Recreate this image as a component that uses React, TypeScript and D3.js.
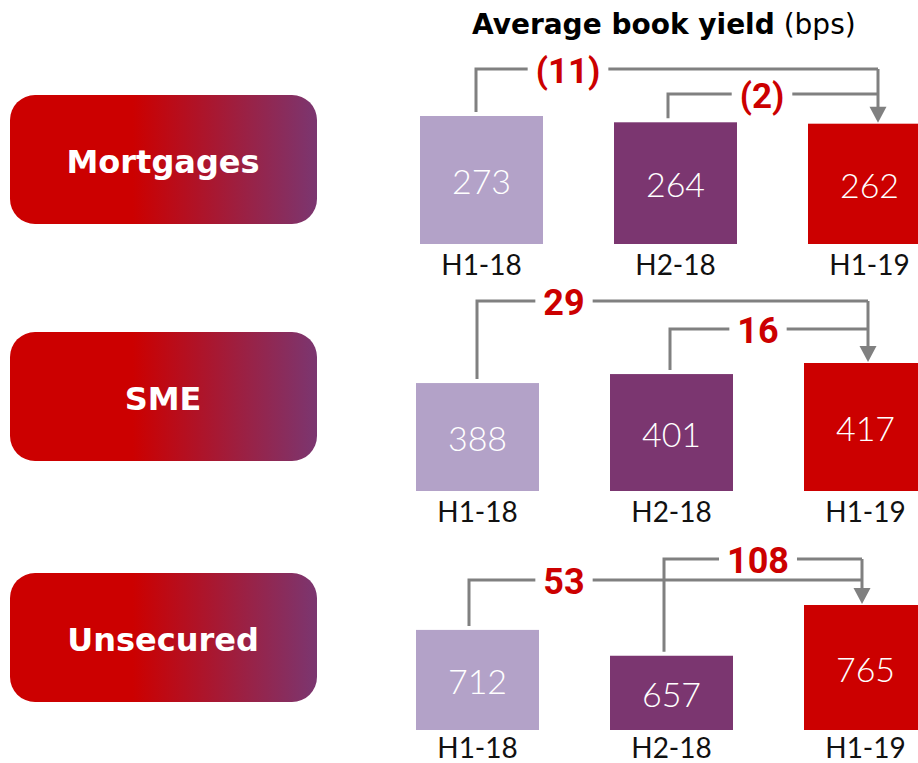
import React from "react";
import * as d3 from "d3";

// ---------- data ----------
const segments = ["Mortgages", "SME", "Unsecured"];
const periods = ["H1-18", "H2-18", "H1-19"];
const mortgages = [273, 264, 262];
const sme = [388, 401, 417];
const unsecured = [712, 657, 765];
const changeFromH118 = [-11, 29, 53];
const changeFromH218 = [-2, 16, 108];
// lower bound of each row's box-height scale (as drawn in the source)
const scaleFloor = [90, 232, 499];

// ---------- layout ----------
const W = 918;
const H = 763;
const rowLayout = [
  { x0: 420, base: 244, longY: 69, shortY: 94, fromDx: [56, 54], arrowDx: 70, pillY: 95, labelSize: 35, maxH: 128, catDy: 31 },
  { x0: 416, base: 491, longY: 301, shortY: 329, fromDx: [61, 60], arrowDx: 64, pillY: 332, labelSize: 36, maxH: 128, catDy: 31 },
  { x0: 416, base: 730, longY: 580, shortY: 559, fromDx: [53, 54], arrowDx: 58, pillY: 573, labelSize: 36, maxH: 125, catDy: 28 },
];
const BOX_W = 123;
const colors = ["#B3A2C8", "#7B3670", "#CC0000"];
const RED = "#CC0000";
const GREY = "#808080";

const rowsData = [mortgages, sme, unsecured];

let measureCtx: CanvasRenderingContext2D | null = null;
function textWidth(t: string, font: string) {
  if (!measureCtx) measureCtx = document.createElement("canvas").getContext("2d");
  if (!measureCtx) return t.length * 20;
  measureCtx.font = font;
  return measureCtx.measureText(t).width;
}

const fmtChange = (v: number) => (v < 0 ? `(${Math.abs(v)})` : `${v}`);

export default function App() {
  const xPos = d3.scalePoint<string>().domain(periods).range([0, 388]);

  const rows = rowsData.map((vals, r) => {
    const L = rowLayout[r];
    const hScale = d3.scaleLinear().domain([scaleFloor[r], d3.max(vals) as number]).range([0, L.maxH]);
    const boxes = vals.map((v, i) => {
      const x = L.x0 + (xPos(periods[i]) as number);
      const h = hScale(v);
      return { x, y: L.base - h, h, v, p: periods[i], c: colors[i] };
    });
    const arrowX = boxes[2].x + L.arrowDx;
    const tipY = boxes[2].y - 1;
    const fs = L.labelSize;
    const font = `bold ${fs}px Roboto`;
    const conns = [
      { from: boxes[0], dx: L.fromDx[0], y: L.longY, label: fmtChange(changeFromH118[r]) },
      { from: boxes[1], dx: L.fromDx[1], y: L.shortY, label: fmtChange(changeFromH218[r]) },
    ].map((c) => {
      const fx = c.from.x + c.dx;
      const lx = c.from.x + 148;
      const w = textWidth(c.label, font);
      const pad = 8;
      return {
        fx,
        fy: c.from.y - 4,
        y: c.y,
        lx,
        label: c.label,
        g1: lx - w / 2 - pad,
        g2: lx + w / 2 + pad,
      };
    });
    const topY = Math.min(L.longY, L.shortY);
    return { L, boxes, conns, arrowX, tipY, topY, fs };
  });

  return (
    <svg
      width={W}
      height={H}
      style={{ position: "absolute", left: 0, top: 0, overflow: "hidden", background: "#fff" }}
    >
      <defs>
        <linearGradient id="pillGrad" x1="0" x2="1" y1="0" y2="0">
          <stop offset="0%" stopColor="#CC0000" />
          <stop offset="40%" stopColor="#CC0000" />
          <stop offset="100%" stopColor="#7B3670" />
        </linearGradient>
      </defs>

      <text x={472} y={34} fontFamily="DejaVu Sans" fontSize={28} fill="#000">
        <tspan fontWeight="bold">Average book yield</tspan>
        <tspan fontWeight="normal"> (bps)</tspan>
      </text>

      {rows.map((row, r) => (
        <g key={segments[r]}>
          {/* pill */}
          <rect x={10} y={row.L.pillY} width={307} height={129} rx={25} ry={25} fill="url(#pillGrad)" />
          <text
            x={163}
            y={row.L.pillY + 64.5 + 13}
            textAnchor="middle"
            fontFamily="DejaVu Sans"
            fontWeight="bold"
            fontSize={32}
            fill="#fff"
          >
            {segments[r]}
          </text>

          {/* boxes */}
          {row.boxes.map((b) => (
            <g key={b.p}>
              <rect x={b.x} y={b.y} width={BOX_W} height={b.h} fill={b.c} />
              <text
                x={b.x + BOX_W / 2}
                y={b.y + b.h / 2 + 14}
                textAnchor="middle"
                fontFamily="Lato"
                fontWeight={300}
                fontSize={34}
                fill="#fff"
              >
                {b.v}
              </text>
              <text
                x={b.x + BOX_W / 2}
                y={row.L.base + row.L.catDy}
                textAnchor="middle"
                fontFamily="Lato"
                fontSize={28}
                fill="#111"
              >
                {b.p}
              </text>
            </g>
          ))}

          {/* connectors */}
          {row.conns.map((c, i) => (
            <path
              key={i}
              d={`M${c.fx},${c.fy}V${c.y}H${c.g1}M${c.g2},${c.y}H${row.arrowX}`}
              fill="none"
              stroke={GREY}
              strokeWidth={3}
            />
          ))}
          <path
            d={`M${row.arrowX},${row.topY}V${row.tipY - 15}`}
            fill="none"
            stroke={GREY}
            strokeWidth={3}
          />
          <path
            d={`M${row.arrowX - 8.5},${row.tipY - 16}L${row.arrowX + 8.5},${row.tipY - 16}L${row.arrowX},${row.tipY}Z`}
            fill={GREY}
          />
          {row.conns.map((c, i) => (
            <text
              key={"l" + i}
              x={c.lx}
              y={c.y + 0.36 * row.fs + 1}
              textAnchor="middle"
              fontFamily="Roboto"
              fontWeight="bold"
              fontSize={row.fs}
              fill={RED}
            >
              {c.label}
            </text>
          ))}
        </g>
      ))}
    </svg>
  );
}
